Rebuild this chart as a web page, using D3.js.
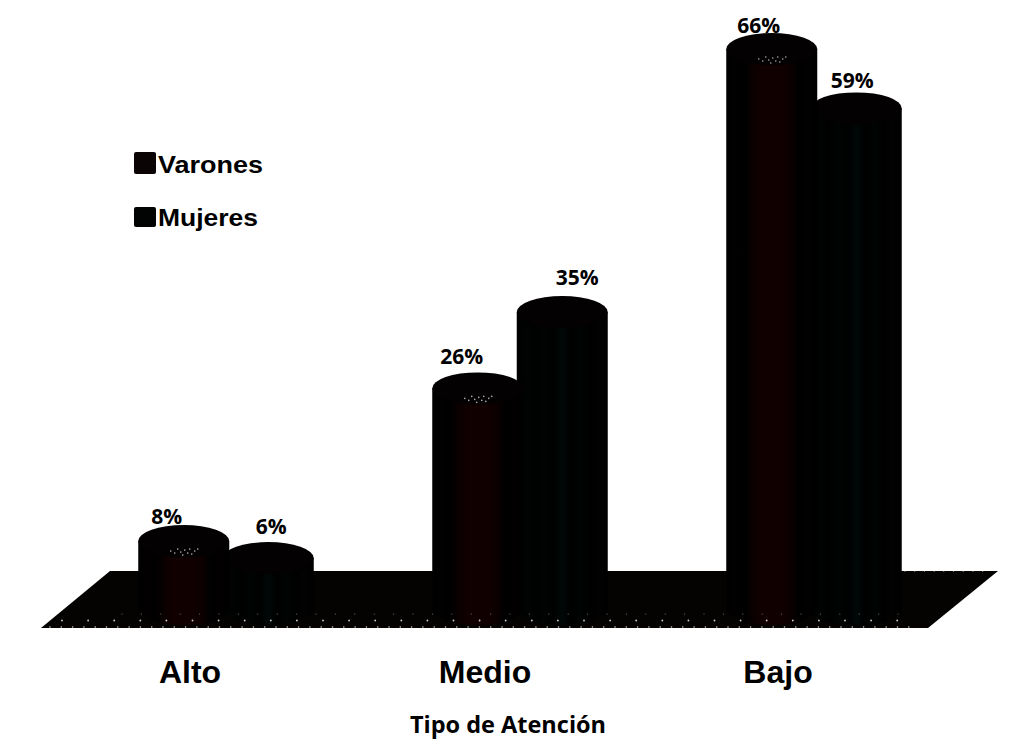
<!DOCTYPE html>
<html lang="es">
<head>
<meta charset="utf-8">
<title>Tipo de Atención</title>
<script src="https://cdn.jsdelivr.net/npm/d3@7"></script>
<style>
  html, body { margin: 0; padding: 0; background: #fff; }
  svg { display: block; }
  .pct { font: bold 21px "Open Sans", sans-serif; fill: #000; text-anchor: middle; }
  .cat { font: bold 32px "Liberation Sans", Arial, sans-serif; fill: #000; text-anchor: middle; }
  .leg { font: bold 24px "Liberation Sans", Arial, sans-serif; fill: #000; }
  .axis-title { font: bold 23.5px "Open Sans", sans-serif; fill: #000; text-anchor: middle; }
</style>
</head>
<body>
<svg id="chart" width="1029" height="756"></svg>
<script>
// Percentage of respondents per attention level
const categories = ["Alto", "Medio", "Bajo"];
const seriesNames = ["Varones", "Mujeres"];
const varones = [8, 26, 66];
const mujeres = [6, 35, 59];
const axisTitle = "Tipo de Atención";

// Hand adjustments for the value labels, [dx, dy], in the same order as the bars
const labelNudgeVarones = [[-17, -1], [-16, -8], [-13, 0]];
const labelNudgeMujeres = [[3, -8], [15, -11], [-4, -4]];

const svg = d3.select("#chart");
const defs = svg.append("defs");

// Layout constants
const barWidth = 91, capRy = 16;
const x0 = d3.scaleBand().domain(categories).range([79, 961]).paddingInner(0).paddingOuter(0);
const x1 = d3.scaleBand().domain(seriesNames).range([x0.bandwidth() / 2 - 84.5, x0.bandwidth() / 2 + 84.5]);
const y = d3.scaleLinear().domain([0, 66]).range([609, 49]);

// Cylinder shading: near-black bands with a faint tint towards the middle
const bandStops = {
  Varones: ["#000", "#020000", "#000", "#0c0000", "#110000", "#110000", "#110000", "#0c0000", "#000", "#020000", "#000"],
  Mujeres: ["#000", "#010303", "#000", "#000403", "#000", "#000807", "#000", "#000403", "#000", "#020202", "#000"]
};
seriesNames.forEach(name => {
  const g = defs.append("linearGradient").attr("id", "body-" + name);
  const stops = bandStops[name];
  stops.forEach((c, i) => {
    g.append("stop").attr("offset", i / (stops.length - 1)).attr("stop-color", c);
  });
});

// Floor plane
const floor = [[41, 628], [110, 571], [998, 571], [928, 628]];
svg.append("polygon")
  .attr("points", floor.map(p => p.join(",")).join(" "))
  .attr("fill", "#040302");

// Draws one cylinder for each value of a series
function drawSeries(name, values) {
  const g = svg.append("g").attr("class", "series-" + name);
  values.forEach((v, i) => {
    const cx = x0(categories[i]) + x1(name) + x1.bandwidth() / 2;
    const top = y(v), base = y(0);
    const hw = barWidth / 2;
    g.append("path")
      .attr("d", `M${cx - hw},${top} L${cx - hw},${base} A${hw},${capRy} 0 0 0 ${cx + hw},${base} L${cx + hw},${top} Z`)
      .attr("fill", `url(#body-${name})`);
    g.append("ellipse")
      .attr("cx", cx).attr("cy", top)
      .attr("rx", hw).attr("ry", capRy)
      .attr("fill", "#030101");
  });
}
drawSeries("Mujeres", mujeres);
drawSeries("Varones", varones);

// Sparse light flecks along the front of the floor, over the cylinder feet
const fleckRows = [
  { y: 614, from: 122, to: 905, step: 19.4, r: 0.6, fill: "#777" },
  { y: 620.5, from: 62, to: 905, step: 26.1, r: 0.9, fill: "#ccc" },
  { y: 627, from: 50, to: 920, step: 11.3, r: 0.8, fill: "#ccc" }
];
fleckRows.forEach(row => {
  svg.append("g").selectAll("circle")
    .data(d3.range(row.from, row.to, row.step))
    .join("circle")
    .attr("cx", d => d).attr("cy", row.y).attr("r", row.r)
    .attr("fill", row.fill);
});
svg.append("g").selectAll("circle")
  .data(d3.range(905, 990, 9.7))
  .join("circle")
  .attr("cx", d => d).attr("cy", 571.5).attr("r", 0.6).attr("fill", "#888");

// Pale highlight flecks on the caps of the first series
const capFlecks = [[-13, 1], [-9, 3], [-6, -1], [-3, 2], [-1, 5], [1, 0], [4, 3], [6, -1], [8, 4], [11, 1], [14, -1]];
varones.forEach((v, i) => {
  const cx = x0(categories[i]) + x1("Varones") + x1.bandwidth() / 2;
  svg.append("g").selectAll("circle")
    .data(capFlecks)
    .join("circle")
    .attr("cx", d => cx + d[0]).attr("cy", d => y(v) + 9 + d[1]).attr("r", 0.8)
    .attr("fill", "#aaa");
});

// Value labels
function drawLabels(name, values, nudges) {
  svg.append("g").selectAll("text")
    .data(values)
    .join("text")
    .attr("class", "pct")
    .attr("x", (d, i) => x0(categories[i]) + x1(name) + x1.bandwidth() / 2 + nudges[i][0])
    .attr("y", (d, i) => y(d) - capRy + nudges[i][1])
    .text(d => d + "%");
}
drawLabels("Varones", varones, labelNudgeVarones);
drawLabels("Mujeres", mujeres, labelNudgeMujeres);

// Category labels under the floor
const catCentres = [190, 485, 778];
svg.append("g").selectAll("text")
  .data(categories)
  .join("text")
  .attr("class", "cat")
  .attr("x", (d, i) => catCentres[i])
  .attr("y", 683)
  .text(d => d);

// Axis title
svg.append("text")
  .attr("class", "axis-title")
  .attr("x", 508).attr("y", 733)
  .text(axisTitle);

// Legend
const legendRows = [
  { name: "Varones", box: 152, boxH: 22, base: 173, fill: "#0b0405", len: 105 },
  { name: "Mujeres", box: 207, boxH: 20, base: 226, fill: "#020404", len: 100 }
];
legendRows.forEach(r => {
  svg.append("rect")
    .attr("x", 134).attr("y", r.box)
    .attr("width", 22).attr("height", r.boxH)
    .attr("rx", 2)
    .attr("fill", r.fill);
  svg.append("text")
    .attr("class", "leg")
    .attr("x", 158).attr("y", r.base)
    .attr("textLength", r.len)
    .attr("lengthAdjust", "spacingAndGlyphs")
    .text(r.name);
});
</script>
</body>
</html>
